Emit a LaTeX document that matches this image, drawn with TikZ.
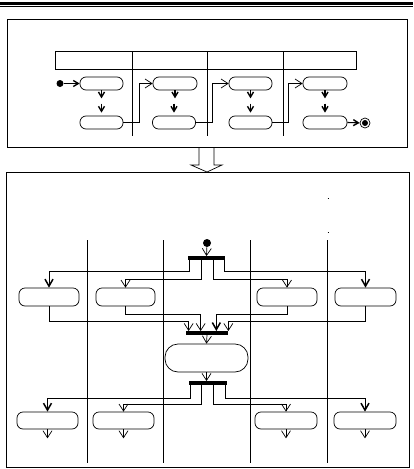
\documentclass[tikz,border=0pt]{standalone}
\usepackage{tikz}
\usetikzlibrary{arrows.meta,calc}

\tikzset{
  act/.style={draw, rounded corners=6pt, inner sep=0pt, line width=0.7pt},
  bar/.style={fill=black, inner sep=0pt, minimum height=3.2pt},
  arr/.style={line width=0.7pt, -{Straight Barb[length=7pt,width=9pt]}},
  barr/.style={line width=0.8pt, -{Straight Barb[length=7pt,width=8pt,line width=1.5pt]}},
  varr/.style={line width=1.1pt, -{Straight Barb[length=5pt,width=6pt,line width=1.4pt]}},
  lane/.style={line width=0.6pt},
}

\begin{document}
\begin{tikzpicture}[x=1pt,y=-1pt,line width=0.7pt]
    \useasboundingbox (0,0) rectangle (413,469);
    % top rule
    \draw[line width=3pt] (0,3) -- (413,3);
    \draw[line width=0.8pt] (0,6.5) -- (413,6.5);
    %
    % upper frame: four lanes in a row
    \draw (7,19) rectangle (407,147);
    \draw[lane] (55,51) rectangle (356,69);
    \draw[lane] (132,51) -- (132,136);
    \draw[lane] (207,51) -- (207,136);
    \draw[lane] (283,51) -- (283,136);
    \node[act, minimum width=43pt, minimum height=13pt] (u1) at (101.5,83.5) {};
    \node[act, minimum width=44pt, minimum height=13pt] (u2) at (175,83.5) {};
    \node[act, minimum width=43pt, minimum height=13pt] (u3) at (250.5,83.5) {};
    \node[act, minimum width=44pt, minimum height=13pt] (u4) at (325,83.5) {};
    \node[act, minimum width=43pt, minimum height=13pt] (v1) at (101.5,122.5) {};
    \node[act, minimum width=43pt, minimum height=13pt] (v2) at (174,122.5) {};
    \node[act, minimum width=43pt, minimum height=13pt] (v3) at (250.5,122.5) {};
    \node[act, minimum width=44pt, minimum height=13pt] (v4) at (325,122.5) {};
    \node[circle, fill=black, inner sep=0pt, minimum size=7pt] (start) at (60,83.5) {};
    \node[circle, draw, inner sep=0pt, minimum size=10pt] (stop) at (365,123) {};
    \fill (stop) circle (3pt);
    \draw[varr] (start) -- (u1.west);
    \draw[varr] (u1.south) -- ++(0,8);
    \draw[varr] ([yshift=12pt]v1.north) -- ([yshift=3pt]v1.north);
    \draw[varr] (u2.south) -- ++(0,8);
    \draw[varr] ([yshift=12pt]v2.north) -- ([yshift=3pt]v2.north);
    \draw[varr] (u3.south) -- ++(0,8);
    \draw[varr] ([yshift=12pt]v3.north) -- ([yshift=3pt]v3.north);
    \draw[varr] (u4.south) -- ++(0,8);
    \draw[varr] ([yshift=12pt]v4.north) -- ([yshift=3pt]v4.north);
    \draw[arr] (v1.east) -- ++(16,0) |- (u2.west);
    \draw[arr] (v2.east) -- ++(16,0) |- (u3.west);
    \draw[arr] (v3.east) -- ++(16,0) |- (u4.west);
    \draw[varr] (v4.east) -- (stop);
    %
    % hollow arrow
    \draw (199,147) -- (199,165) -- (191,165) -- (207,172) -- (222,165) -- (214,165) -- (214,147);
    %
    % lower frame: lanes with fork and join
    \draw (6,172) rectangle (409,467);
    \draw[lane] (87,240) -- (87,463);
    \draw[lane] (163,240) -- (163,463);
    \draw[lane] (250,240) -- (250,463);
    \draw[lane] (327,240) -- (327,463);
    \draw (327.5,198) -- (329,198);
    \draw (327.5,232) -- (329,232);
    \node[circle, fill=black, inner sep=0pt, minimum size=8pt] (init) at (207,243) {};
    \node[bar, minimum width=37pt] (forkA) at (206.5,258) {};
    \node[act, minimum width=60pt, minimum height=18pt] (a1) at (49,297) {};
    \node[act, minimum width=59pt, minimum height=18pt] (a2) at (125.5,297) {};
    \node[act, minimum width=60pt, minimum height=18pt] (a3) at (287,297) {};
    \node[act, minimum width=61pt, minimum height=18pt] (a4) at (365.5,297) {};
    \node[bar, minimum width=42pt] (joinA) at (207,333) {};
    \node[act, rounded corners=13pt, minimum width=83pt, minimum height=28pt] (mid) at (206.5,358) {};
    \node[bar, minimum width=38pt] (forkB) at (208,383) {};
    \node[act, minimum width=61pt, minimum height=17pt] (b1) at (47.5,420.5) {};
    \node[act, minimum width=61pt, minimum height=17pt] (b2) at (123.5,420.5) {};
    \node[act, minimum width=62pt, minimum height=17pt] (b3) at (286,420.5) {};
    \node[act, minimum width=62pt, minimum height=17pt] (b4) at (365,420.5) {};
    \draw[arr] (init) -- (forkA.north);
    \draw[barr] ([xshift=1.5pt]forkA.south west) -- ++(0,11) -| (a1.north);
    \draw[arr] ([xshift=14pt]forkA.south west) -- ++(0,19) -| (a2.north);
    \draw[arr] ([xshift=-12pt]forkA.south east) -- ++(0,19) -| (a3.north);
    \draw[barr] ([xshift=-0.5pt]forkA.south east) -- ++(0,11) -| (a4.north);
    \draw[arr] (a1.south) -- ++(0,15) -| ([xshift=3pt]joinA.north west);
    \draw[arr] (a2.south) -- ++(0,8) -| ([xshift=15pt]joinA.north west);
    \draw[barr] (a3.south) -- ++(0,8) -| ([xshift=-12pt]joinA.north east);
    \draw[arr] (a4.south) -- ++(0,15) -| ([xshift=0pt]joinA.north east);
    \draw[arr] (joinA.south) -- (mid.north);
    \draw[arr] (mid.south) -- ([xshift=-1.5pt]forkB.north);
    \draw[barr] ([xshift=2pt]forkB.south west) -- ++(0,13) -| (b1.north);
    \draw[arr] ([xshift=13pt]forkB.south west) -- ++(0,19) -| (b2.north);
    \draw[arr] ([xshift=-14pt]forkB.south east) -- ++(0,19) -| (b3.north);
    \draw[barr] ([xshift=-2pt]forkB.south east) -- ++(0,13) -| (b4.north);
    \draw[arr] (b1.south) -- ++(0,9);
    \draw[arr] (b2.south) -- ++(0,9);
    \draw[arr] (b3.south) -- ++(0,9);
    \draw[arr] (b4.south) -- ++(0,9);
    %
\end{tikzpicture}
\end{document}
